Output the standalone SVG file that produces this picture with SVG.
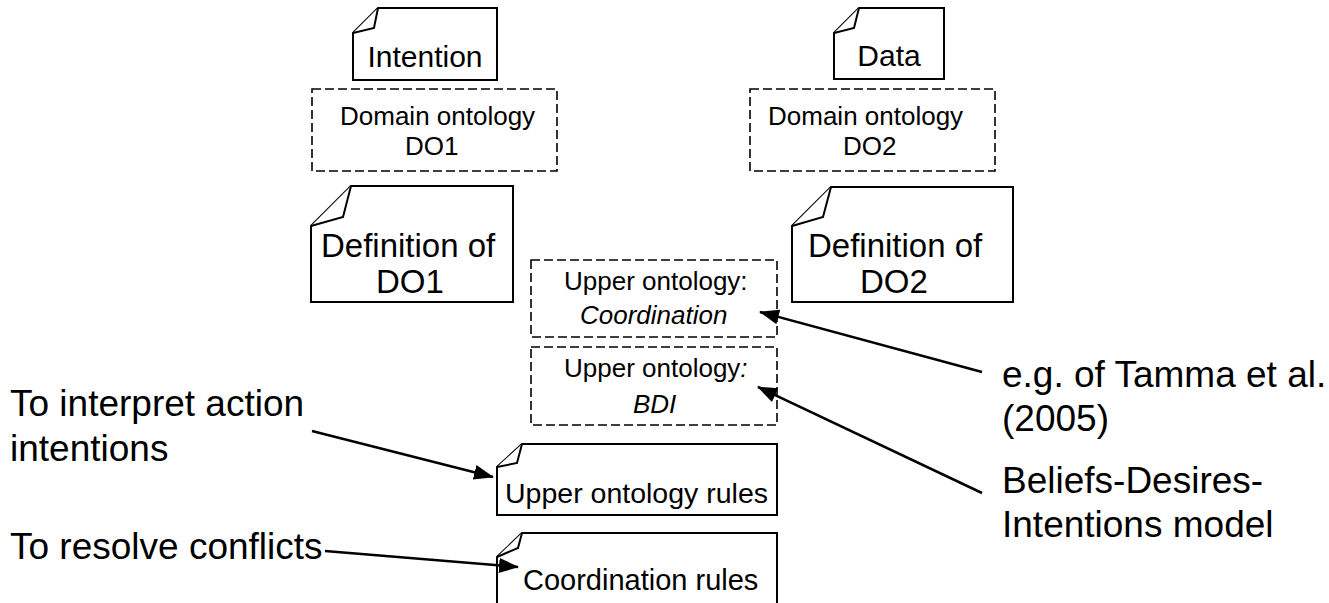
<svg xmlns="http://www.w3.org/2000/svg" width="1329" height="603" viewBox="0 0 1329 603">
<style>
.note{fill:#fff;stroke:#000;stroke-width:2;stroke-linejoin:miter}
.dash{fill:#fff;stroke:#000;stroke-width:1.6;stroke-dasharray:9 4}
.t{font-family:"Liberation Sans",Arial,sans-serif;fill:#000}
.it{font-style:italic}
.conn{stroke:#000;stroke-width:2.5;fill:none;marker-end:url(#ah)}
</style>
<defs>
<marker id="ah" markerUnits="userSpaceOnUse" markerWidth="22" markerHeight="16" refX="19" refY="7.5" orient="auto">
<path d="M0,0 L20,7.5 L0,15 Z" fill="#000"/>
</marker>
</defs>
<rect width="1329" height="603" fill="#fff"/>

<g id="intention">
<path class="note" d="M378,8 L497,8 L497,80 L353,80 L353,33 Z"/>
<path class="note" d="M353,33 L374,28 L378,8"/>
<text class="t" x="425" y="67" font-size="30" text-anchor="middle">Intention</text>
</g>

<g id="do1">
<rect class="dash" x="312" y="89" width="245" height="82"/>
<text class="t" x="340" y="125" font-size="26">Domain ontology</text>
<text class="t" x="405" y="155" font-size="26">DO1</text>
</g>

<g id="def-do1">
<path class="note" d="M351,186 L513,186 L513,302 L311,302 L311,226 Z"/>
<path class="note" d="M311,226 L343,217 L351,186"/>
<text class="t" x="321" y="257" font-size="33">Definition of</text>
<text class="t" x="376" y="293" font-size="33">DO1</text>
</g>

<g id="data">
<path class="note" d="M859,8 L944,8 L944,79 L834,79 L834,33 Z"/>
<path class="note" d="M834,33 L854,28 L859,8"/>
<text class="t" x="889" y="66" font-size="30" text-anchor="middle">Data</text>
</g>

<g id="do2">
<rect class="dash" x="750" y="89" width="245" height="82"/>
<text class="t" x="768" y="125" font-size="26">Domain ontology</text>
<text class="t" x="843" y="155" font-size="26">DO2</text>
</g>

<g id="def-do2">
<path class="note" d="M831,187 L1013,187 L1013,302 L792,302 L792,226 Z"/>
<path class="note" d="M792,226 L823,217 L831,187"/>
<text class="t" x="808" y="257" font-size="33">Definition of</text>
<text class="t" x="860" y="293" font-size="33">DO2</text>
</g>

<g id="upper-coord">
<rect class="dash" x="531" y="260" width="246" height="77"/>
<text class="t" x="564" y="290" font-size="26">Upper ontology:</text>
<text class="t it" x="580" y="324" font-size="26">Coordination</text>
</g>

<g id="upper-bdi">
<rect class="dash" x="531" y="347" width="246" height="78"/>
<text class="t" x="564" y="377" font-size="26">Upper ontology<tspan class="it">:</tspan></text>
<text class="t it" x="633" y="413" font-size="26">BDI</text>
</g>

<g id="upper-rules">
<path class="note" d="M522,444 L777,444 L777,515 L497,515 L497,467 Z"/>
<path class="note" d="M497,467 L517,463 L522,444"/>
<text class="t" x="505" y="503" font-size="28.5">Upper ontology rules</text>
</g>

<g id="coord-rules">
<path class="note" d="M522,533 L777,533 L777,610 L497,610 L497,557 Z"/>
<path class="note" d="M497,557 L518,548 L522,533"/>
<text class="t" x="523" y="590" font-size="29">Coordination rules</text>
</g>

<g id="labels">
<text class="t" x="10" y="416" font-size="37">To interpret action</text>
<text class="t" x="10" y="461" font-size="37">intentions</text>
<text class="t" x="10" y="559" font-size="37">To resolve conflicts</text>
<text class="t" x="1002" y="387" font-size="37">e.g. of Tamma et al.</text>
<text class="t" x="1002" y="431" font-size="37">(2005)</text>
<text class="t" x="1002" y="493" font-size="37">Beliefs-Desires-</text>
<text class="t" x="1002" y="537" font-size="37">Intentions model</text>
</g>

<g id="connectors">
<line class="conn" x1="982" y1="372" x2="760" y2="312"/>
<line class="conn" x1="982" y1="493" x2="758" y2="387"/>
<line class="conn" x1="312" y1="431" x2="493" y2="477"/>
<line class="conn" x1="325" y1="551" x2="518" y2="567"/>
</g>
</svg>
